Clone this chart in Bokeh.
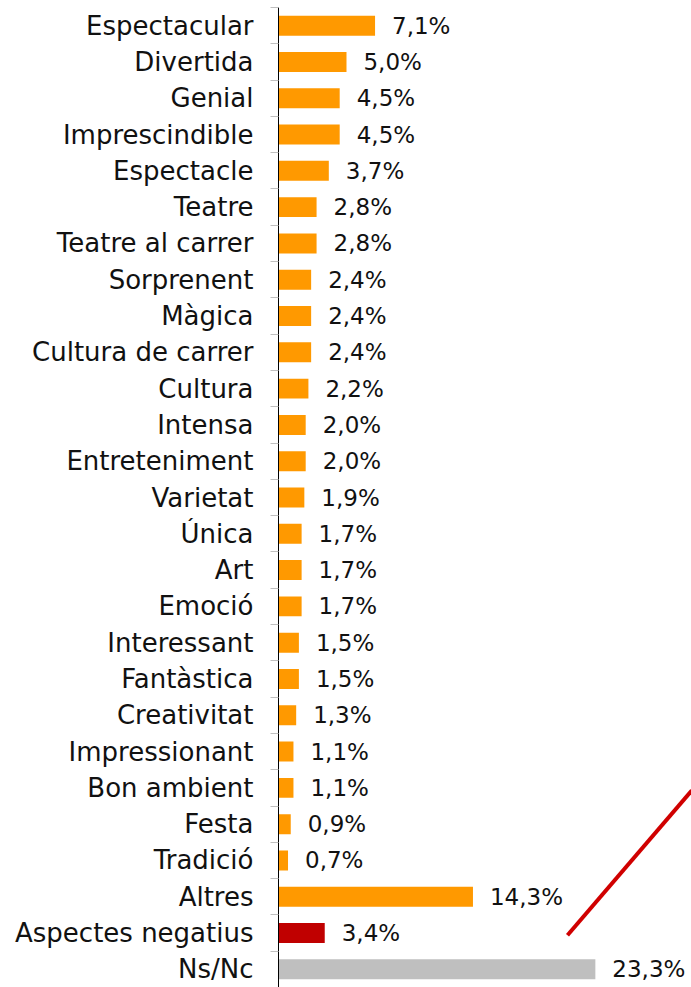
from bokeh.plotting import figure
from bokeh.models import ColumnDataSource, FixedTicker, Range1d, LabelSet
from bokeh.core.properties import value
from bokeh.embed import file_html
from bokeh.resources import INLINE

categories = ["Espectacular", "Divertida", "Genial", "Imprescindible", "Espectacle",
              "Teatre", "Teatre al carrer", "Sorprenent", "Màgica", "Cultura de carrer",
              "Cultura", "Intensa", "Entreteniment", "Varietat", "Única", "Art", "Emoció",
              "Interessant", "Fantàstica", "Creativitat", "Impressionant", "Bon ambient",
              "Festa", "Tradició", "Altres", "Aspectes negatius", "Ns/Nc"]
values = [7.1, 5.0, 4.5, 4.5, 3.7, 2.8, 2.8, 2.4, 2.4, 2.4, 2.2, 2.0, 2.0, 1.9, 1.7,
          1.7, 1.7, 1.5, 1.5, 1.3, 1.1, 1.1, 0.9, 0.7, 14.3, 3.4, 23.3]

ORANGE = "#FF9900"
RED = "#C00000"
GREY = "#BFBFBF"
colors = [ORANGE] * 25 + [RED, GREY]

idx = list(range(len(categories)))
labels = [f"{v:.1f}".replace(".", ",") + "%" for v in values]

src = ColumnDataSource(dict(y=idx, v=values, c=colors, lab=labels))

FONT = "DejaVu Sans"

p = figure(width=691, height=987, output_backend="svg", toolbar_location=None,
           x_range=Range1d(0, 30.37), y_range=Range1d(26.5, -0.5),
           x_axis_location=None, y_axis_location="left",
           min_border_left=278, min_border_right=0, min_border_top=7, min_border_bottom=0)
p.outline_line_color = None
p.grid.visible = False
p.background_fill_color = "white"

p.hbar(y="y", left=0, right="v", height=0.55, fill_color="c", line_color=None, source=src)

ls = LabelSet(x="v", y="y", text="lab", source=src, x_offset=17, text_baseline="middle",
              text_align="left", text_font=value(FONT), text_font_size="23px",
              text_color="#111111")
p.add_layout(ls)

# decorative red stroke
deco_x = [21.25, 30.4]
deco_y = [25.06, 21.07]
p.line(deco_x, deco_y, line_color="#D00000", line_width=4)

ax = p.yaxis[0]
ax.ticker = FixedTicker(ticks=idx, minor_ticks=[i - 0.5 for i in range(len(categories) + 1)])
ax.major_label_overrides = {i: c for i, c in enumerate(categories)}
ax.major_tick_line_color = None
ax.major_tick_out = 0
ax.major_tick_in = 0
ax.minor_tick_out = 8
ax.minor_tick_in = 0
ax.minor_tick_line_color = GREY
ax.minor_tick_line_width = 1
ax.axis_line_color = "black"
ax.axis_line_width = 1
ax.major_label_standoff = 17
ax.major_label_text_font = FONT
ax.major_label_text_font_size = "26px"
ax.major_label_text_color = "#111111"

open("out.html", "w").write(file_html(p, INLINE))
